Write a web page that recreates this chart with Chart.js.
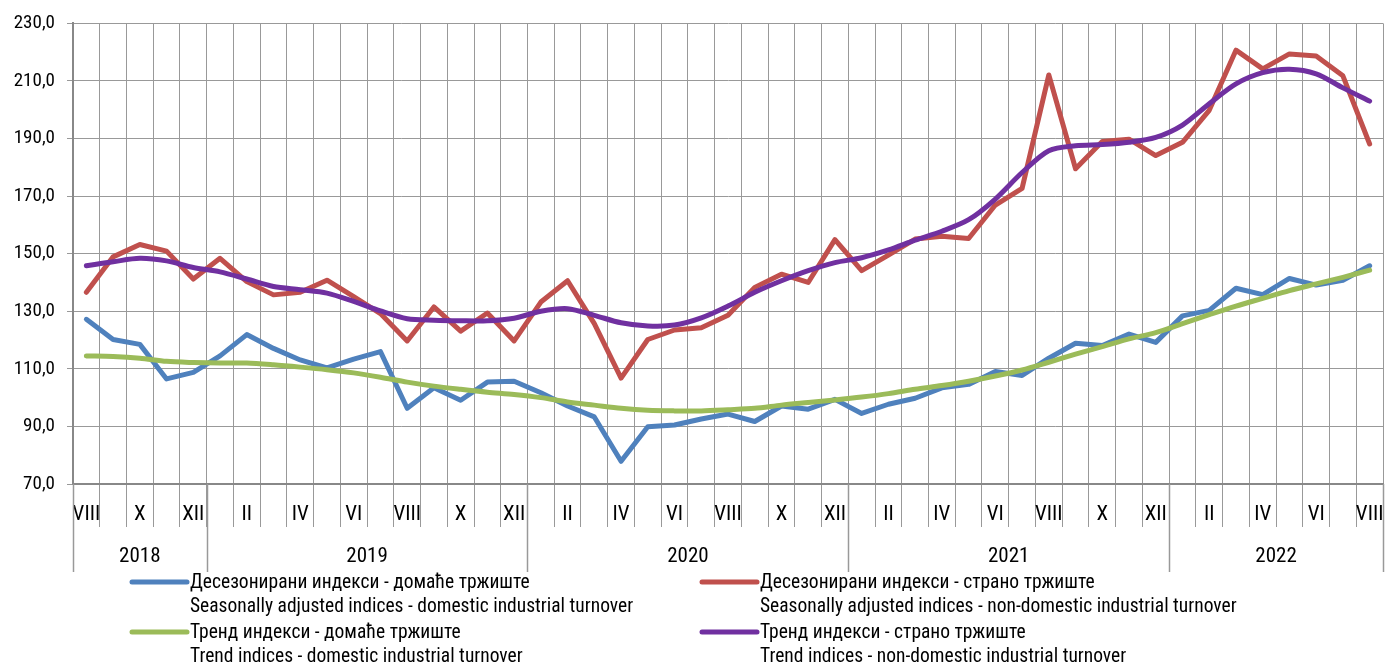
<!DOCTYPE html>
<html>
<head>
<meta charset="utf-8">
<script src="https://cdn.jsdelivr.net/npm/chart.js@4"></script>
<style>
html,body{margin:0;padding:0;background:#fff;}
#wrap{width:1395px;height:671px;position:relative;}
</style>
</head>
<body>
<div id="wrap"><canvas id="c" width="1395" height="671"></canvas></div>
<script>
// ---- DATA ----
const monthLabels = ['VIII','IX','X','XI','XII',
  'I','II','III','IV','V','VI','VII','VIII','IX','X','XI','XII',
  'I','II','III','IV','V','VI','VII','VIII','IX','X','XI','XII',
  'I','II','III','IV','V','VI','VII','VIII','IX','X','XI','XII',
  'I','II','III','IV','V','VI','VII','VIII'];
const yearLabels = ['2018','2019','2020','2021','2022'];
const yearSpans = [5, 12, 12, 12, 8];
const yTicks = [70, 90, 110, 130, 150, 170, 190, 210, 230];

const domesticSA = [127.2,120.2,118.5,106.5,108.8,114.5,121.9,117.1,113.1,110.3,113.4,116.0,96.3,103.4,99.1,105.4,105.7,
  101.7,97.1,93.3,77.9,89.9,90.5,92.6,94.3,91.7,97.1,96.0,99.4,94.5,97.7,99.8,103.4,
  104.6,109.1,107.7,113.7,118.9,118.1,122.1,119.2,128.4,130.3,138.0,135.8,141.4,139.1,140.8,145.8];
const domesticTrend = [114.5,114.3,113.7,112.6,112.2,112.0,112.0,111.4,110.6,109.7,108.6,107.1,105.4,104.0,102.9,101.9,101.1,
  100.0,98.5,97.4,96.3,95.6,95.4,95.4,95.8,96.3,97.4,98.3,99.2,100.2,101.4,102.9,104.2,
  105.7,107.5,109.6,112.3,115.1,117.7,120.4,122.6,125.7,128.8,131.8,134.5,137.2,139.5,141.8,144.3];
const foreignSA = [136.6,148.9,153.2,150.9,141.2,148.4,140.3,135.7,136.6,140.8,135.1,129.2,119.7,131.5,123.1,129.4,119.7,
  133.2,140.6,125.7,106.8,120.2,123.5,124.3,128.6,138.3,142.9,140.0,154.9,144.1,149.5,155.1,156.1,
  155.3,166.9,172.7,212.1,179.5,189.0,189.8,184.1,188.7,199.8,220.7,214.2,219.4,218.7,211.8,188.1];
const foreignTrend = [145.8,147.2,148.4,147.5,145.2,143.7,141.2,138.6,137.5,136.3,133.4,130.1,127.4,126.9,126.7,126.7,127.6,
  130.0,130.9,128.6,126.0,124.9,125.2,127.7,131.8,136.6,140.6,144.1,146.9,148.6,151.3,154.7,157.8,
  161.8,169.0,178.2,185.8,187.5,187.9,188.7,190.4,194.7,202.1,209.0,212.9,214.1,212.5,207.6,203.0];

const seriesNamesSr = ['Десезонирани индекси - домаће тржиште','Десезонирани индекси - страно тржиште','Тренд индекси - домаће тржиште','Тренд индекси - страно тржиште'];
const seriesNamesEn = ['Seasonally adjusted indices - domestic industrial turnover','Seasonally adjusted indices - non-domestic industrial turnover','Trend indices - domestic industrial turnover','Trend indices - non-domestic industrial turnover'];
const seriesColors = ['#4F81BD','#C0504D','#9BBB59','#7030A0'];

const FONT = "Roboto, 'DejaVu Sans Condensed', sans-serif";
const GRID = '#999999';

// Narrow look (like Arial Narrow): use Roboto's condensed width for all canvas text
const canvas = document.getElementById('c');
const ctx0 = canvas.getContext('2d');
const fontDesc = Object.getOwnPropertyDescriptor(CanvasRenderingContext2D.prototype, 'font');
Object.defineProperty(ctx0, 'font', {
  configurable: true,
  get(){ return fontDesc.get.call(this); },
  set(v){ fontDesc.set.call(this, v); this.fontStretch = 'condensed'; }
});
ctx0.fontStretch = 'condensed';

function ds(i, data, tension, order){
  return {label: seriesNamesSr[i], labelEn: seriesNamesEn[i], data: data,
    borderColor: seriesColors[i], backgroundColor: seriesColors[i], borderWidth: 5,
    pointRadius: 0, tension: tension, borderCapStyle:'round', borderJoinStyle:'round', order: order, fill:false};
}

const yearPlugin = {
  id: 'years',
  afterDraw(chart){
    const ctx = chart.ctx, x = chart.scales.x, area = chart.chartArea;
    const bounds = [x.left];
    let idx = 0;
    for (let k = 0; k < yearSpans.length; k++){
      idx += yearSpans[k];
      if (idx >= monthLabels.length) bounds.push(x.right);
      else bounds.push((x.getPixelForValue(idx-1) + x.getPixelForValue(idx)) / 2);
    }
    ctx.save();
    ctx.strokeStyle = GRID; ctx.lineWidth = 1.5;
    bounds.forEach(b => { ctx.beginPath(); ctx.moveTo(Math.round(b)+0.5, area.bottom); ctx.lineTo(Math.round(b)+0.5, 572); ctx.stroke(); });
    ctx.fillStyle = '#000'; ctx.font = '21px ' + FONT; ctx.textAlign = 'center'; ctx.textBaseline = 'middle';
    for (let k = 0; k < yearLabels.length; k++){
      ctx.fillText(yearLabels[k], (bounds[k] + bounds[k+1]) / 2, 557);
    }
    // legend
    const pos = [[130,582],[700,582],[130,632],[700,632]];
    chart.data.datasets.forEach(d => {
      const i = seriesNamesSr.indexOf(d.label);
      const [lx, ly] = pos[i];
      ctx.strokeStyle = d.borderColor; ctx.lineWidth = 5; ctx.lineCap = 'round';
      ctx.beginPath(); ctx.moveTo(lx+2, ly); ctx.lineTo(lx+57, ly); ctx.stroke();
      ctx.fillStyle = '#000'; ctx.font = '19.5px ' + FONT; ctx.textAlign = 'left'; ctx.textBaseline = 'middle';
      ctx.fillText(d.label, lx + 60, ly + 1);
      ctx.fillText(d.labelEn, lx + 60, ly + 25);
    });
    ctx.restore();
  }
};

new Chart(canvas, {
  type: 'line',
  data: {
    labels: monthLabels,
    datasets: [
      ds(0, domesticSA, 0, 4),
      ds(1, foreignSA, 0, 3),
      ds(2, domesticTrend, 0.3, 2),
      ds(3, foreignTrend, 0.3, 1)
    ]
  },
  options: {
    responsive: false, animation: false, devicePixelRatio: 1,
    layout: {padding: {top: 18, right: 12, left: 0, bottom: 0}},
    plugins: {legend: {display: false}, tooltip: {enabled: false}},
    scales: {
      x: {
        type: 'category', offset: true,
        grid: {offset: true, color: GRID, lineWidth: 1, tickLength: 43, drawTicks: true},
        border: {color: '#888', width: 2},
        ticks: {autoSkip: false, maxRotation: 0, minRotation: 0, padding: -25, color: '#000',
          font: {size: 21, family: FONT},
          callback: function(v, i){ return i % 2 === 0 ? monthLabels[i] : ''; }},
        afterFit: s => { s.height = 187; }
      },
      y: {
        min: 70, max: 230,
        afterBuildTicks: s => { s.ticks = yTicks.map(v => ({value: v})); },
        grid: {color: GRID, lineWidth: 1, tickLength: 6},
        border: {color: '#888', width: 2},
        ticks: {padding: 12, color: '#000', font: {size: 19, family: FONT},
          callback: v => v.toFixed(1).replace('.', ',')},
        afterFit: s => { s.width = 73; }
      }
    }
  },
  plugins: [yearPlugin]
});
</script>
</body>
</html>
